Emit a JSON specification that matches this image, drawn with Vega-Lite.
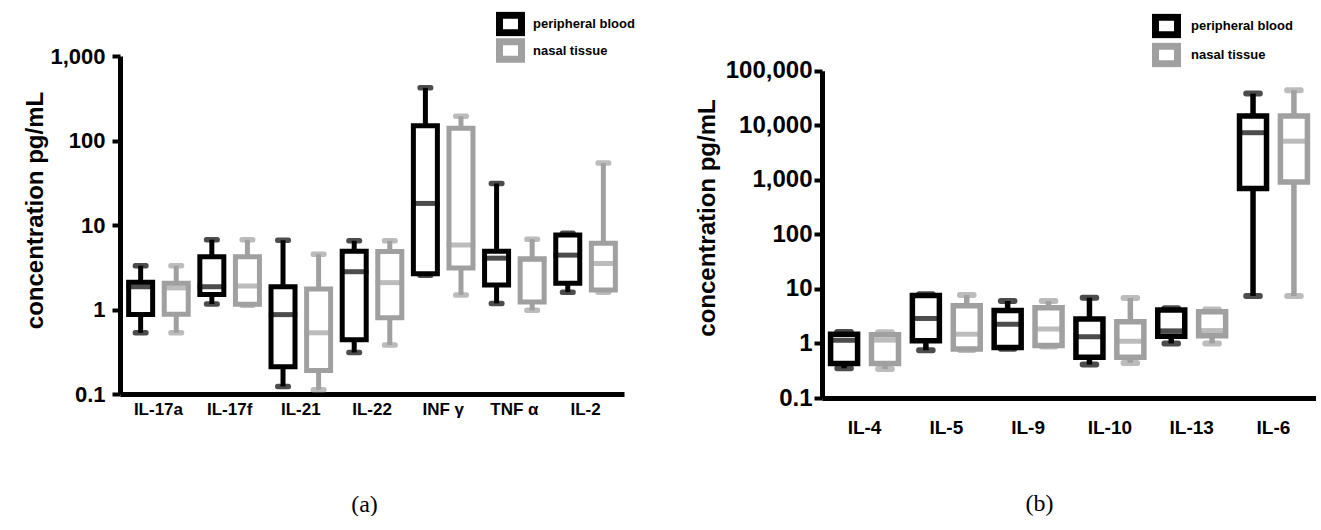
{
  "$schema": "https://vega.github.io/schema/vega-lite/v6.json",
  "padding": {"left": 23, "top": 11, "right": 0, "bottom": 0},
  "background": "white",
  "config": {
    "view": {"stroke": null},
    "font": "Liberation Sans",
    "axis": {"grid": false, "domainColor": "black", "domainWidth": 5, "tickColor": "black", "tickWidth": 4, "labelColor": "black", "labelFontWeight": "bold", "titleColor": "black", "titleFontWeight": "bold", "labelFont": "Liberation Sans", "titleFont": "Liberation Sans"}
  },
  "datasets": {
    "a": [
      {"cytokine": "IL-17a", "group": "peripheral blood", "min": 0.53, "q1": 0.87, "median": 1.86, "q3": 2.1, "max": 3.3},
      {"cytokine": "IL-17a", "group": "nasal tissue", "min": 0.53, "q1": 0.88, "median": 1.8, "q3": 2.05, "max": 3.3},
      {"cytokine": "IL-17f", "group": "peripheral blood", "min": 1.16, "q1": 1.5, "median": 1.86, "q3": 4.2, "max": 6.7},
      {"cytokine": "IL-17f", "group": "nasal tissue", "min": 1.12, "q1": 1.15, "median": 1.9, "q3": 4.2, "max": 6.7},
      {"cytokine": "IL-21", "group": "peripheral blood", "min": 0.123, "q1": 0.21, "median": 0.87, "q3": 1.86, "max": 6.6},
      {"cytokine": "IL-21", "group": "nasal tissue", "min": 0.112, "q1": 0.19, "median": 0.53, "q3": 1.75, "max": 4.5},
      {"cytokine": "IL-22", "group": "peripheral blood", "min": 0.31, "q1": 0.44, "median": 2.8, "q3": 4.9, "max": 6.5},
      {"cytokine": "IL-22", "group": "nasal tissue", "min": 0.38, "q1": 0.8, "median": 2.08, "q3": 4.85, "max": 6.5},
      {"cytokine": "INF γ", "group": "peripheral blood", "min": 2.55, "q1": 2.65, "median": 18, "q3": 149, "max": 420},
      {"cytokine": "INF γ", "group": "nasal tissue", "min": 1.48, "q1": 3.1, "median": 5.8, "q3": 140, "max": 193},
      {"cytokine": "TNF α", "group": "peripheral blood", "min": 1.18, "q1": 1.95, "median": 4.05, "q3": 4.9, "max": 31},
      {"cytokine": "TNF α", "group": "nasal tissue", "min": 0.98, "q1": 1.23, "median": 3.9, "q3": 4.0, "max": 6.8},
      {"cytokine": "IL-2", "group": "peripheral blood", "min": 1.6, "q1": 2.04, "median": 4.4, "q3": 7.6, "max": 8.0},
      {"cytokine": "IL-2", "group": "nasal tissue", "min": 1.6, "q1": 1.7, "median": 3.5, "q3": 6.1, "max": 54}
    ],
    "b": [
      {"cytokine": "IL-4", "group": "peripheral blood", "min": 0.35, "q1": 0.43, "median": 1.15, "q3": 1.48, "max": 1.63},
      {"cytokine": "IL-4", "group": "nasal tissue", "min": 0.34, "q1": 0.43, "median": 1.15, "q3": 1.45, "max": 1.6},
      {"cytokine": "IL-5", "group": "peripheral blood", "min": 0.75, "q1": 1.12, "median": 2.87, "q3": 7.6, "max": 8.0},
      {"cytokine": "IL-5", "group": "nasal tissue", "min": 0.76, "q1": 0.79, "median": 1.48, "q3": 4.9, "max": 7.7},
      {"cytokine": "IL-9", "group": "peripheral blood", "min": 0.8, "q1": 0.84, "median": 2.25, "q3": 4.0, "max": 6.0},
      {"cytokine": "IL-9", "group": "nasal tissue", "min": 0.88, "q1": 0.92, "median": 1.85, "q3": 4.5, "max": 6.0},
      {"cytokine": "IL-10", "group": "peripheral blood", "min": 0.41, "q1": 0.56, "median": 1.33, "q3": 2.8, "max": 6.9},
      {"cytokine": "IL-10", "group": "nasal tissue", "min": 0.44, "q1": 0.56, "median": 1.1, "q3": 2.5, "max": 6.8},
      {"cytokine": "IL-13", "group": "peripheral blood", "min": 1.0, "q1": 1.35, "median": 1.7, "q3": 4.1, "max": 4.4},
      {"cytokine": "IL-13", "group": "nasal tissue", "min": 1.0, "q1": 1.38, "median": 1.72, "q3": 3.8, "max": 4.2},
      {"cytokine": "IL-6", "group": "peripheral blood", "min": 7.4, "q1": 690, "median": 7300, "q3": 14800, "max": 38000},
      {"cytokine": "IL-6", "group": "nasal tissue", "min": 7.4, "q1": 910, "median": 5100, "q3": 14800, "max": 44000}
    ]
  },
  "spacing": 60,
  "resolve": {"scale": {"x": "independent", "y": "independent", "color": "independent", "xOffset": "independent"}, "legend": {"color": "independent"}},
  "hconcat": [
    {
      "width": 504,
      "height": 338,
      "data": {"name": "a"},
      "encoding": {
        "x": {"field": "cytokine", "type": "nominal", "sort": null, "scale": {"paddingInner": 0, "paddingOuter": 0.04},
          "axis": {"title": "(a)", "labelAngle": 0, "labelFontSize": 17, "labelPadding": 7, "ticks": false, "titleFont": "Liberation Serif", "titleFontWeight": "normal", "titleFontSize": 24, "titlePadding": 75, "titleX": 244}},
        "xOffset": {"field": "group", "type": "nominal", "sort": ["peripheral blood", "nasal tissue"], "scale": {"paddingInner": 0, "paddingOuter": 0}},
        "color": {"field": "group", "type": "nominal", "sort": ["peripheral blood", "nasal tissue"],
          "scale": {"domain": ["peripheral blood", "nasal tissue"], "range": ["#000000", "#a0a0a0"]},
          "legend": {"orient": "none", "legendX": 376, "legendY": -44.5, "title": null, "direction": "vertical", "symbolType": "M-1,-0.8L1,-0.8L1,0.8L-1,0.8Z", "symbolSize": 484, "symbolStrokeWidth": 7, "symbolFillColor": "white", "labelFontSize": 13, "labelFontWeight": "bold", "labelColor": "black", "labelOffset": 8, "clipHeight": 25, "rowPadding": 1.5, "padding": 0}}
      },
      "layer": [
        {"mark": {"type": "rule", "strokeWidth": 5},
          "encoding": {"y": {"field": "min", "type": "quantitative", "title": "concentration pg/mL",
            "scale": {"type": "log", "domain": [0.1, 1000], "nice": false},
            "axis": {"values": [0.1, 1, 10, 100, 1000], "format": ",", "labelFontSize": 22, "tickSize": 8, "labelPadding": 7, "titleFontSize": 24, "titlePadding": 2, "titleY": 154}},
            "y2": {"field": "q1"}}},
        {"mark": {"type": "rule", "strokeWidth": 5},
          "encoding": {"y": {"field": "q3", "type": "quantitative", "title": "concentration pg/mL"}, "y2": {"field": "max"}}},
        {"mark": {"type": "bar", "filled": false, "width": 24, "strokeWidth": 5},
          "encoding": {"y": {"field": "q1", "type": "quantitative", "title": "concentration pg/mL"}, "y2": {"field": "q3"}}},
        {"mark": {"type": "tick", "filled": false, "orient": "horizontal", "size": 24, "thickness": 0.5, "strokeWidth": 4.5},
          "encoding": {"y": {"field": "median", "type": "quantitative", "title": "concentration pg/mL"}}},
        {"mark": {"type": "tick", "filled": false, "orient": "horizontal", "size": 11, "thickness": 0.5, "strokeWidth": 5, "strokeJoin": "round"},
          "encoding": {"y": {"field": "min", "type": "quantitative", "title": "concentration pg/mL"}}},
        {"mark": {"type": "tick", "filled": false, "orient": "horizontal", "size": 11, "thickness": 0.5, "strokeWidth": 5, "strokeJoin": "round"},
          "encoding": {"y": {"field": "max", "type": "quantitative", "title": "concentration pg/mL"}}}
      ]
    },
    {
      "width": 494,
      "height": 342,
      "data": {"name": "b"},
      "encoding": {
        "x": {"field": "cytokine", "type": "nominal", "sort": null, "scale": {"paddingInner": 0, "paddingOuter": 0.02},
          "axis": {"title": "(b)", "labelAngle": 0, "labelFontSize": 19, "labelPadding": 20, "ticks": false, "titleFont": "Liberation Serif", "titleFontWeight": "normal", "titleFontSize": 24, "titlePadding": 54, "titleX": 217}},
        "xOffset": {"field": "group", "type": "nominal", "sort": ["peripheral blood", "nasal tissue"], "scale": {"paddingInner": 0, "paddingOuter": 0}},
        "color": {"field": "group", "type": "nominal", "sort": ["peripheral blood", "nasal tissue"],
          "scale": {"domain": ["peripheral blood", "nasal tissue"], "range": ["#000000", "#a0a0a0"]},
          "legend": {"orient": "none", "legendX": 330, "legendY": -42.5, "title": null, "direction": "vertical", "symbolType": "M-1,-0.8L1,-0.8L1,0.8L-1,0.8Z", "symbolSize": 484, "symbolStrokeWidth": 7, "symbolFillColor": "white", "labelFontSize": 13, "labelFontWeight": "bold", "labelColor": "black", "labelOffset": 10, "clipHeight": 25, "rowPadding": 4, "padding": 0}}
      },
      "layer": [
        {"mark": {"type": "rule", "strokeWidth": 5.5},
          "encoding": {"y": {"field": "min", "type": "quantitative", "title": "concentration pg/mL",
            "scale": {"type": "log", "domain": [0.1, 100000], "nice": false, "range": [342, 14.7]},
            "axis": {"values": [0.1, 1, 10, 100, 1000, 10000, 100000], "format": ",", "labelFontSize": 24, "tickSize": 8, "labelPadding": 2, "titleFontSize": 24, "titlePadding": 6, "titleY": 161.5}},
            "y2": {"field": "q1"}}},
        {"mark": {"type": "rule", "strokeWidth": 5.5},
          "encoding": {"y": {"field": "q3", "type": "quantitative", "title": "concentration pg/mL"}, "y2": {"field": "max"}}},
        {"mark": {"type": "bar", "filled": false, "width": 27, "strokeWidth": 5.5},
          "encoding": {"y": {"field": "q1", "type": "quantitative", "title": "concentration pg/mL"}, "y2": {"field": "q3"}}},
        {"mark": {"type": "tick", "filled": false, "orient": "horizontal", "size": 27, "thickness": 0.5, "strokeWidth": 4.5},
          "encoding": {"y": {"field": "median", "type": "quantitative", "title": "concentration pg/mL"}}},
        {"mark": {"type": "tick", "filled": false, "orient": "horizontal", "size": 14, "thickness": 0.5, "strokeWidth": 5.5, "strokeJoin": "round"},
          "encoding": {"y": {"field": "min", "type": "quantitative", "title": "concentration pg/mL"}}},
        {"mark": {"type": "tick", "filled": false, "orient": "horizontal", "size": 14, "thickness": 0.5, "strokeWidth": 5.5, "strokeJoin": "round"},
          "encoding": {"y": {"field": "max", "type": "quantitative", "title": "concentration pg/mL"}}}
      ]
    }
  ]
}
